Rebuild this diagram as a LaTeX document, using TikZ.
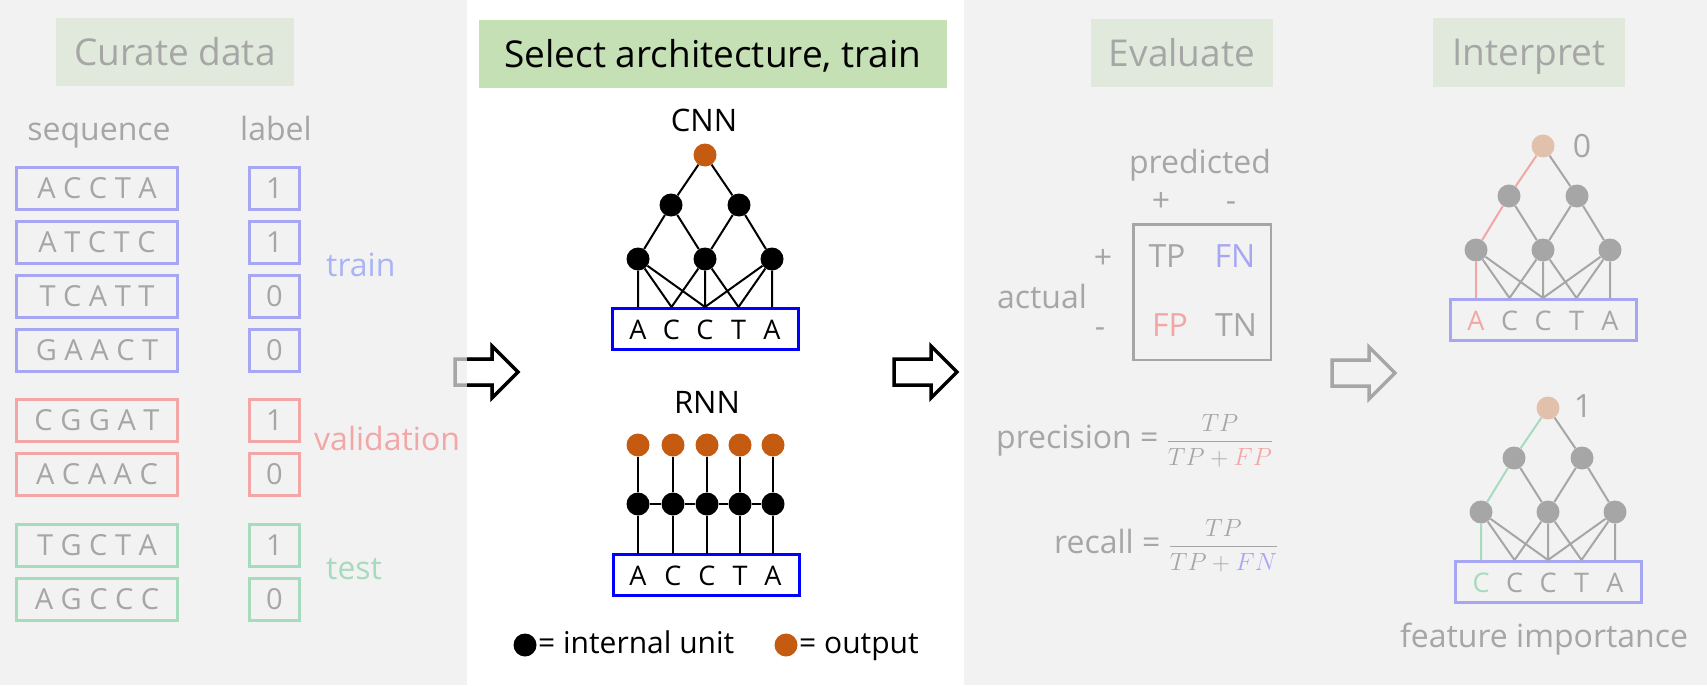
\documentclass[tikz,border=0pt]{standalone}
\usepackage{fontspec}
\setmainfont{Open Sans}
\usepackage{amsmath}
\usetikzlibrary{calc}

\definecolor{panelgray}{HTML}{F2F2F2}
\definecolor{fadetext}{HTML}{A6A6A6}
\definecolor{fadeblue}{HTML}{A6A6F2}
\definecolor{fadered}{HTML}{F2A6A6}
\definecolor{fadegreen}{HTML}{A6DBBE}
\definecolor{fadehead}{HTML}{E1E9DC}
\definecolor{fadeorange}{HTML}{E1C1AB}
\definecolor{trainblue}{HTML}{AAB4F5}
\definecolor{headgreen}{HTML}{C5E0B4}
\definecolor{outorange}{HTML}{C55A11}

\tikzset{
  head/.style={fill=#1, minimum height=68pt, text height=27pt, text depth=0pt, inner sep=0pt, font=\fontsize{37}{40}\selectfont},
  txt/.style={inner sep=0pt, font=\fontsize{32}{38}\selectfont},
  seqbox/.style={draw=#1, line width=3pt, minimum width=161pt, minimum height=42pt, inner sep=0pt, text=fadetext, font=\fontsize{29}{32}\selectfont},
  lblbox/.style={draw=#1, line width=3pt, minimum width=50pt, minimum height=42pt, inner sep=0pt, text=fadetext, font=\fontsize{29}{32}\selectfont},
  unit/.style={circle, fill=#1, minimum size=23pt, inner sep=0pt},
  unit/.default=black,
  netbox/.style={draw=#1, line width=3pt, minimum width=186pt, minimum height=41pt, inner sep=0pt},
  letter/.style={anchor=base, inner sep=0pt, font=\fontsize{27}{30}\selectfont},
  link/.style={line width=2pt},
  arrowline/.style={line width=3.5pt, line join=miter},
}

% one small CNN: name, position, unit colour, output colour, box colour, path colour, first letter, its colour
\newcommand{\convnet}[8]{%
\begin{scope}[shift={#2}]
  \node[unit=#4] (#1-out) at (0,0) {};
  \node[unit=#3] (#1-ha) at (-34,50) {};
  \node[unit=#3] (#1-hb) at (34,50) {};
  \node[unit=#3] (#1-la) at (-67,104) {};
  \node[unit=#3] (#1-lb) at (0,104) {};
  \node[unit=#3] (#1-lc) at (67,104) {};
  \node[netbox=#5] (#1-box) at (0,174) {};
  \node[letter, text=#8] (#1-l1) at (-67,184) {#7};
  \foreach \c/\x [count=\i from 2] in {C/-33.5, C/0, T/33.5, A/67}
    \node[letter, text=#3] (#1-l\i) at (\x,184) {\c};
  \foreach \x [count=\i] in {-67,-33.5,0,33.5,67}
    \coordinate (#1-s\i) at (\x,152);
  \draw[link, #3] (#1-out) -- (#1-hb) (#1-ha) -- (#1-lb) (#1-hb) -- (#1-lb) (#1-hb) -- (#1-lc)
    (#1-la) -- (#1-s2) (#1-la) -- (#1-s3) (#1-lb) -- (#1-s2) (#1-lb) -- (#1-s3) (#1-lb) -- (#1-s4)
    (#1-lc) -- (#1-s3) (#1-lc) -- (#1-s4) (#1-lc) -- (#1-s5);
  \draw[link, #6] (#1-out) -- (#1-ha) -- (#1-la) -- (#1-s1);
\end{scope}}

% hollow block arrow from its left middle
\newcommand{\blockarrow}[2]{%
  \draw[arrowline, #2] #1 ++(0,-13) -- ++(37,0) -- ++(0,-13) -- ++(26,26) -- ++(-26,26) -- ++(0,-13) -- ++(-37,0) -- cycle;}

\begin{document}
\begin{tikzpicture}[x=1pt, y=-1pt]
  \useasboundingbox (0,0) rectangle (1707,685);
  \fill[panelgray] (0,0) rectangle (1707,685);
  \fill[white] (467,0) rectangle (964,685);

  % curate data
  \node[head=fadehead, minimum width=238pt, text=fadetext] (curate) at (175,52) {Curate data};
  \node[txt, anchor=base, text=fadetext] (seqhead) at (99,140) {sequence};
  \node[txt, anchor=base, text=fadetext] (lblhead) at (276,140) {label};
  \foreach \seq/\lab/\col/\y [count=\i] in {A C C T A/1/fadeblue/188, A T C T C/1/fadeblue/242,
      T C A T T/0/fadeblue/296, G A A C T/0/fadeblue/350, C G G A T/1/fadered/420,
      A C A A C/0/fadered/474, T G C T A/1/fadegreen/545, A G C C C/0/fadegreen/599}
  {
    \node[seqbox=\col] (seq\i) at (97,\y) {\seq};
    \node[lblbox=\col] (lab\i) at (274.5,\y) {\lab};
  }
  \node[txt, anchor=base west, text=trainblue] (train) at (326,276) {train};
  \node[txt, anchor=base west, text=fadered] (valid) at (314,450) {validation};
  \node[txt, anchor=base west, text=fadegreen] (test) at (326,579) {test};

  % select architecture, train
  \node[head=headgreen, minimum width=468pt] (select) at (713,54) {Select architecture, train};
  \node[txt, anchor=base, font=\fontsize{31}{36}\selectfont] (cnnlabel) at (704,131) {CNN};
  \convnet{cnn}{(705,155)}{black}{outorange}{blue}{black}{A}{black}

  \node[txt, anchor=base, font=\fontsize{31}{36}\selectfont] (rnnlabel) at (707,413) {RNN};
  \node[netbox=blue] (rnn-box) at (706,575) {};
  \foreach \x/\c [count=\i] in {638/A,673/C,707/C,740/T,773/A}
  {
    \node[unit=outorange] (rnn-o\i) at (\x,445) {};
    \node[unit=black] (rnn-h\i) at (\x,504) {};
    \node[letter] (rnn-l\i) at (\x,585) {\c};
    \coordinate (rnn-s\i) at (\x,553.5);
    \draw[line width=2.4pt] (rnn-s\i) -- (rnn-h\i) -- (rnn-o\i);
  }
  \draw[line width=2.4pt] (rnn-h1) -- (rnn-h2) -- (rnn-h3) -- (rnn-h4) -- (rnn-h5);

  \node[unit=black] (key-int) at (525,645) {};
  \node[txt, anchor=base west, font=\fontsize{30}{36}\selectfont] (key-int-txt) at (538,653) {= internal unit};
  \node[unit=outorange] (key-out) at (786,645) {};
  \node[txt, anchor=base west, font=\fontsize{30}{36}\selectfont] (key-out-txt) at (799,653) {= output};

  % arrows between the steps
  \coordinate (arrowa) at (455,372);
  \coordinate (arrowb) at (894,372);
  \coordinate (arrowc) at (1332,373);
  \blockarrow{(arrowa)}{fadetext}
  \begin{scope}
    \clip (467,0) rectangle (964,685);
    \blockarrow{(arrowa)}{black}
  \end{scope}
  \blockarrow{(arrowb)}{black}
  \blockarrow{(arrowc)}{fadetext}

  % evaluate
  \node[head=fadehead, minimum width=182pt, text=fadetext] (evaluate) at (1182,53) {Evaluate};
  \node[txt, anchor=base, text=fadetext] (pred) at (1200,173) {predicted};
  \node[txt, anchor=base, text=fadetext] (pplus) at (1161,211) {+};
  \node[txt, anchor=base, text=fadetext] (pminus) at (1231,211) {-};
  \node[draw=fadetext, line width=2.5pt, minimum width=137.5pt, minimum height=135.5pt] (confmat) at (1202,292) {};
  \node[txt, anchor=base, text=fadetext] (tp) at (1167,267) {TP};
  \node[txt, anchor=base, text=fadeblue] (fn) at (1235,267) {FN};
  \node[txt, anchor=base, text=fadered] (fp) at (1170,336) {FP};
  \node[txt, anchor=base, text=fadetext] (tn) at (1236,336) {TN};
  \node[txt, anchor=base, text=fadetext] (aplus) at (1103,268) {+};
  \node[txt, anchor=base, text=fadetext] (aminus) at (1100,337) {-};
  \node[txt, anchor=base, text=fadetext] (actual) at (1042,308) {actual};
  \node[txt, anchor=base west, text=fadetext] (precision) at (996,448)
    {precision = {\fontsize{24}{28}\selectfont$\displaystyle\frac{TP}{TP+\textcolor{fadered}{FP}}$}};
  \node[txt, anchor=base west, text=fadetext] (recall) at (1054,553)
    {recall = {\fontsize{24}{28}\selectfont$\displaystyle\frac{TP}{TP+\textcolor{fadeblue}{FN}}$}};

  % interpret
  \node[head=fadehead, minimum width=192pt, text=fadetext] (interpret) at (1529,52.5) {Interpret};
  \convnet{top}{(1543,146)}{fadetext}{fadeorange}{fadeblue}{fadered}{A}{fadered}
  \node[txt, text=fadetext] (top-val) at (1582,146) {0};
  \convnet{bot}{(1548,408)}{fadetext}{fadeorange}{fadeblue}{fadegreen}{C}{fadegreen}
  \node[txt, text=fadetext] (bot-val) at (1583,406) {1};
  \node[txt, anchor=base, text=fadetext] (featimp) at (1544,647) {feature importance};
\end{tikzpicture}
\end{document}
